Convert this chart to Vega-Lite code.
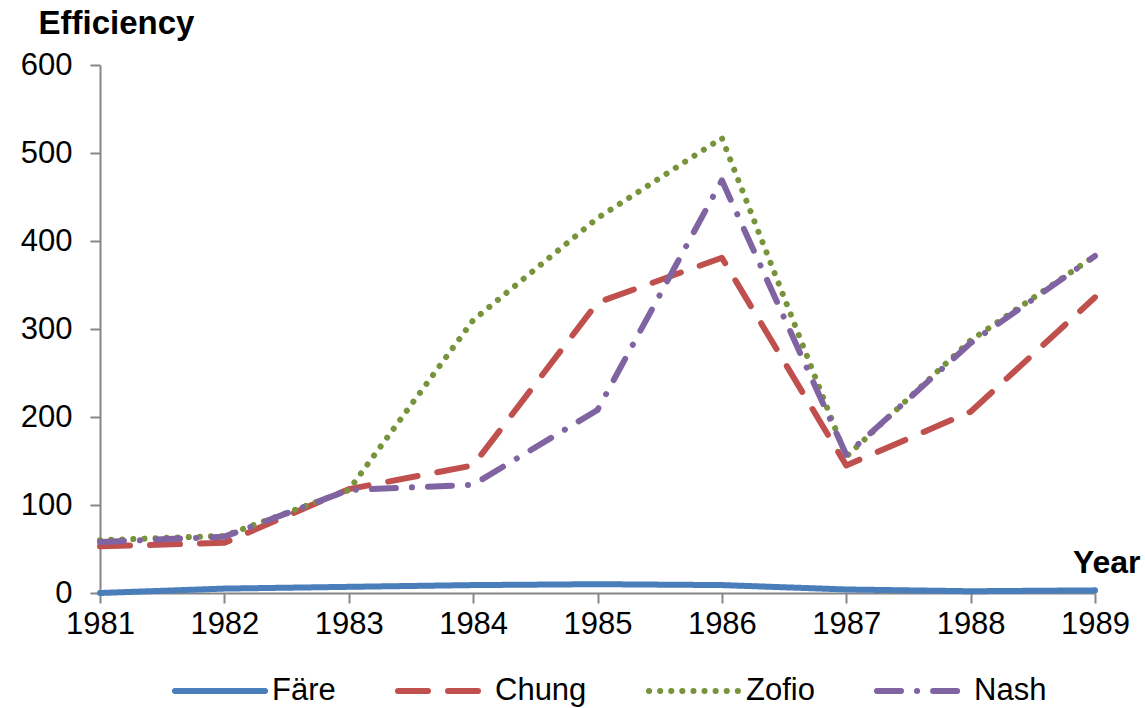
{
  "$schema": "https://vega.github.io/schema/vega-lite/v6.json",
  "width": 995,
  "height": 528,
  "autosize": "none",
  "padding": {"left": 100, "top": 65, "right": 50, "bottom": 115},
  "background": "white",
  "config": {
    "view": {"stroke": null},
    "font": "Liberation Sans",
    "axis": {"domainColor": "#868686", "tickColor": "#868686", "domainWidth": 2, "tickWidth": 2, "labelColor": "#000000", "titleColor": "#000000", "grid": false},
    "legend": {
      "title": null, "orient": "none", "direction": "horizontal",
      "legendX": 72, "legendY": 578,
      "symbolType": "stroke", "symbolSize": 8100, "symbolStrokeWidth": 6,
      "labelFontSize": 31, "labelOffset": 4, "columnPadding": 50,
      "labelColor": "#000000"
    }
  },
  "data": {"values": [
    {"year": 1981, "series": "Färe", "v": 0},
    {"year": 1982, "series": "Färe", "v": 5},
    {"year": 1983, "series": "Färe", "v": 7},
    {"year": 1984, "series": "Färe", "v": 9},
    {"year": 1985, "series": "Färe", "v": 10},
    {"year": 1986, "series": "Färe", "v": 9},
    {"year": 1987, "series": "Färe", "v": 4},
    {"year": 1988, "series": "Färe", "v": 2},
    {"year": 1989, "series": "Färe", "v": 3},
    {"year": 1981, "series": "Chung", "v": 53},
    {"year": 1982, "series": "Chung", "v": 57},
    {"year": 1983, "series": "Chung", "v": 118},
    {"year": 1984, "series": "Chung", "v": 145},
    {"year": 1985, "series": "Chung", "v": 330},
    {"year": 1986, "series": "Chung", "v": 381},
    {"year": 1987, "series": "Chung", "v": 145},
    {"year": 1988, "series": "Chung", "v": 206},
    {"year": 1989, "series": "Chung", "v": 336},
    {"year": 1981, "series": "Zofio", "v": 60},
    {"year": 1982, "series": "Zofio", "v": 65},
    {"year": 1983, "series": "Zofio", "v": 117},
    {"year": 1984, "series": "Zofio", "v": 310},
    {"year": 1985, "series": "Zofio", "v": 426},
    {"year": 1986, "series": "Zofio", "v": 517},
    {"year": 1987, "series": "Zofio", "v": 155},
    {"year": 1988, "series": "Zofio", "v": 287},
    {"year": 1989, "series": "Zofio", "v": 383},
    {"year": 1981, "series": "Nash", "v": 58},
    {"year": 1982, "series": "Nash", "v": 64},
    {"year": 1983, "series": "Nash", "v": 117},
    {"year": 1984, "series": "Nash", "v": 123},
    {"year": 1985, "series": "Nash", "v": 208},
    {"year": 1986, "series": "Nash", "v": 469},
    {"year": 1987, "series": "Nash", "v": 157},
    {"year": 1988, "series": "Nash", "v": 284},
    {"year": 1989, "series": "Nash", "v": 383}
  ]},
  "mark": {"type": "line", "strokeWidth": 6, "strokeCap": "round", "strokeJoin": "round"},
  "encoding": {
    "x": {
      "field": "year", "type": "quantitative",
      "scale": {"domain": [1981, 1989], "nice": false, "zero": false},
      "axis": {
        "values": [1981, 1982, 1983, 1984, 1985, 1986, 1987, 1988, 1989],
        "format": "d", "tickSize": 10, "labelFontSize": 31, "labelPadding": 6,
        "labelFlush": false, "labelOverlap": false,
        "title": "Year", "titleFontSize": 32, "titleFontWeight": "bold",
        "titleAlign": "right", "titleBaseline": "alphabetic", "titleAnchor": null,
        "titleX": 1040, "titleY": -21
      }
    },
    "y": {
      "field": "v", "type": "quantitative",
      "scale": {"domain": [0, 600], "nice": false},
      "axis": {
        "values": [0, 100, 200, 300, 400, 500, 600],
        "tickSize": 10, "labelFontSize": 31, "labelPadding": 18,
        "title": "Efficiency", "titleFontSize": 33, "titleFontWeight": "bold",
        "titleAngle": 0, "titleAlign": "center", "titleBaseline": "alphabetic", "titleAnchor": null,
        "titleX": 16, "titleY": -32
      }
    },
    "color": {
      "field": "series", "type": "nominal",
      "scale": {"domain": ["Färe", "Chung", "Zofio", "Nash"], "range": ["#4A7EBB", "#C0504D", "#77933C", "#8064A2"]},
      "legend": {"encode": {"symbols": {"update": {"strokeCap": {"value": "round"}}}}}
    },
    "strokeDash": {
      "field": "series", "type": "nominal",
      "scale": {"domain": ["Färe", "Chung", "Zofio", "Nash"], "range": [[1, 0], [30, 20], [0.1, 11], [24, 16, 0.1, 16]]},
      "legend": {"encode": {"symbols": {"update": {"strokeCap": {"value": "round"}}}}}
    }
  }
}
